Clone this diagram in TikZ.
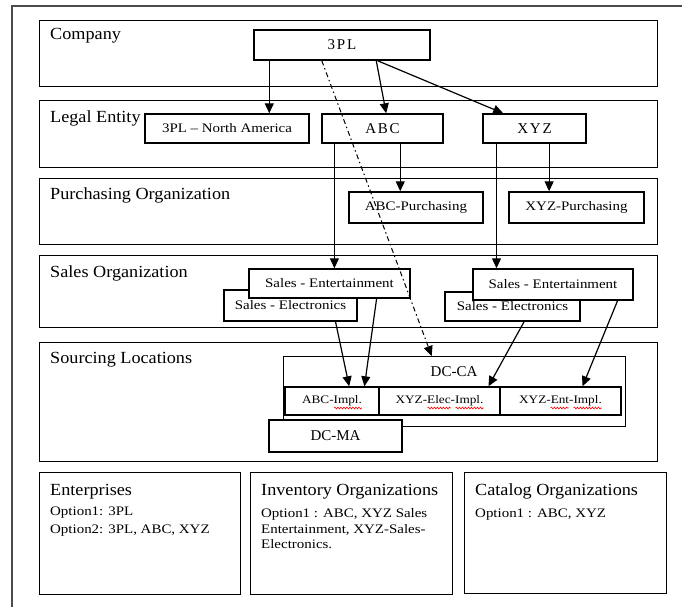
\documentclass[tikz,border=0pt]{standalone}
\usepackage{fontspec}
\setmainfont{Liberation Serif}
\newfontfamily\bandfont[FakeStretch=1.07]{Liberation Serif}
\newfontfamily\smallfont[FakeStretch=1.15]{Liberation Serif}
\newfontfamily\spacedfont[LetterSpace=12]{Liberation Serif}
\usetikzlibrary{arrows.meta,calc,decorations.pathmorphing}
\begin{document}
\begin{tikzpicture}[x=1pt,y=-1pt,
  band/.style={draw=black, line width=1.4pt, inner sep=0pt, anchor=north west},
  lbl/.style={anchor=base west, inner sep=0pt, font=\bandfont\fontsize{17}{20}\selectfont},
  body/.style={anchor=base west, inner sep=0pt, font=\smallfont\fontsize{13}{15}\selectfont},
  box/.style={draw=black, line width=1.4pt, fill=white, inner sep=0pt, font=\smallfont\fontsize{13}{15}\selectfont},
  bigbox/.style={box, font=\spacedfont\fontsize{15}{18}\selectfont},
  bigtext/.style={inner sep=0pt, font=\fontsize{15}{18}\selectfont},
  cell/.style={box, font=\smallfont\fontsize{11.5}{13}\selectfont},
  arr/.style={line width=1.2pt, -{Triangle[length=10pt,width=9pt]}},
  dashline/.style={line width=1pt, dash pattern=on 5pt off 3pt on 1.5pt off 3pt, -{Triangle[length=10pt,width=9pt]}},
  wave/.style={red, line width=0.6pt, decorate, decoration={snake, amplitude=0.9pt, segment length=3pt}}
]
\useasboundingbox (0,0) rectangle (682,607);
\fill[white] (0,0) rectangle (682,607);
% outer frame
\coordinate (ftl) at (12,6);
\coordinate (ftr) at (682,6);
\coordinate (fbl) at (12,607);
\draw[line width=2pt, black!70] (ftr) -- (ftl) -- (fbl);

% bands
\node[band, minimum width=618pt, minimum height=66pt] (company) at (39,20) {};
\node[band, minimum width=618pt, minimum height=67pt] (legal) at (39,100) {};
\node[band, minimum width=618pt, minimum height=66pt] (purch) at (39,178) {};
\node[band, minimum width=618pt, minimum height=72pt] (sales) at (39,255) {};
\node[band, minimum width=618pt, minimum height=119pt] (sourcing) at (39,342) {};
\node[band, minimum width=201pt, minimum height=122pt] (enterprises) at (39,472) {};
\node[band, minimum width=202pt, minimum height=122pt] (inventory) at (250,472) {};
\node[band, minimum width=202pt, minimum height=121pt] (catalog) at (464,472) {};

% band labels
\node[lbl] (lcompany) at (50,40) {Company};
\node[lbl] (llegal) at (50,122) {Legal Entity};
\node[lbl] (lpurch) at (50,199) {Purchasing Organization};
\node[lbl] (lsales) at (50,277) {Sales Organization};
\node[lbl] (lsourcing) at (50,363) {Sourcing Locations};
\node[lbl] (lent) at (50,495) {Enterprises};
\node[body] (ent1) at (50,515) {Option1: 3PL};
\node[body] (ent2) at (50,533) {Option2: 3PL, ABC, XYZ};
\node[lbl] (linv) at (261,495) {Inventory Organizations};
\node[body] (inv1) at (261,517) {Option1 : ABC, XYZ Sales};
\node[body] (inv2) at (261,533) {Entertainment, XYZ-Sales-};
\node[body] (inv3) at (261,548) {Electronics.};
\node[lbl] (lcat) at (475,495) {Catalog Organizations};
\node[body] (cat1) at (475,517) {Option1 : ABC, XYZ};

% boxes
\node[bigbox, minimum width=176pt, minimum height=30pt] (tpl) at (342,45) {3PL};
\node[box, minimum width=164pt, minimum height=29pt] (tplna) at (227,128.5) {3PL – North America};
\node[bigbox, minimum width=121pt, minimum height=29pt] (abc) at (382.5,128.5) {ABC};
\node[bigbox, minimum width=103pt, minimum height=29pt] (xyz) at (534.5,128.5) {XYZ};
\node[box, minimum width=134pt, minimum height=31pt] (abcp) at (416,207.5) {ABC-Purchasing};
\node[box, minimum width=135pt, minimum height=31pt] (xyzp) at (576.5,207.5) {XYZ-Purchasing};
\node[box, minimum width=133pt, minimum height=31pt] (selel) at (290.5,305.5) {Sales - Electronics};
\node[box, minimum width=161pt, minimum height=29pt] (sentl) at (329.5,283.5) {Sales - Entertainment};
\node[box, minimum width=135pt, minimum height=29pt] (seler) at (512.5,306.5) {Sales - Electronics};
\node[box, minimum width=160pt, minimum height=31pt] (sentr) at (553,284.5) {Sales - Entertainment};

\node[box, minimum width=342pt, minimum height=70pt, anchor=north west] (dcca) at (283,356) {};
\node[bigtext] (dccal) at (454,372) {DC-CA};
\node[cell, minimum width=94pt, minimum height=28pt] (iabc) at (332,401) {ABC-Impl.};
\node[cell, minimum width=121pt, minimum height=28pt] (ielec) at (439.5,401) {XYZ-Elec-Impl.};
\node[cell, minimum width=121pt, minimum height=28pt] (ient) at (560.5,401) {XYZ-Ent-Impl.};
\node[box, minimum width=133pt, minimum height=32pt, font=\fontsize{15}{18}\selectfont] (dcma) at (335.5,436) {DC-MA};

% spell-check squiggles
\draw[wave] ($(iabc.center)+(2,7)$) -- ++(28,0);
\draw[wave] ($(ielec.center)+(-12,7)$) -- ++(23,0);
\draw[wave] ($(ielec.center)+(16,7)$) -- ++(28,0);
\draw[wave] ($(ient.center)+(-10,7)$) -- ++(18,0);
\draw[wave] ($(ient.center)+(13,7)$) -- ++(28,0);

% connectors
\coordinate (s1) at ($(tpl.south west)!0.09!(tpl.south east)$);
\draw[arr] (s1) -- (s1 |- tplna.north);
\draw[arr] ($(tpl.south west)!0.693!(tpl.south east)$) -- ($(abc.north west)!0.53!(abc.north east)$);
\draw[arr] ($(tpl.south west)!0.70!(tpl.south east)$) -- ($(xyz.north west)!0.2!(xyz.north east)$);
\coordinate (s5) at ($(abc.south west)!0.645!(abc.south east)$);
\draw[arr] (s5) -- (s5 |- abcp.north);
\coordinate (s6) at ($(abc.south west)!0.107!(abc.south east)$);
\draw[arr] (s6) -- (s6 |- sentl.north);
\coordinate (s7) at ($(xyz.south west)!0.64!(xyz.south east)$);
\draw[arr] (s7) -- (s7 |- xyzp.north);
\coordinate (s8) at ($(xyz.south west)!0.136!(xyz.south east)$);
\draw[arr] (s8) -- (s8 |- sentr.north);
\draw[arr] ($(selel.south west)!0.835!(selel.south east)$) -- ($(iabc.north west)!0.68!(iabc.north east)$);
\draw[arr] ($(sentl.south west)!0.79!(sentl.south east)$) -- ($(iabc.north west)!0.84!(iabc.north east)$);
\draw[arr] ($(seler.south west)!0.585!(seler.south east)$) -- ($(ielec.north west)!0.9!(ielec.north east)$);
\draw[arr] ($(sentr.south west)!0.9!(sentr.south east)$) -- ($(ient.north west)!0.68!(ient.north east)$);
\draw[dashline] ($(tpl.south west)!0.386!(tpl.south east)$) -- ($(dcca.north west)!0.433!(dcca.north east)$);
\end{tikzpicture}
\end{document}
